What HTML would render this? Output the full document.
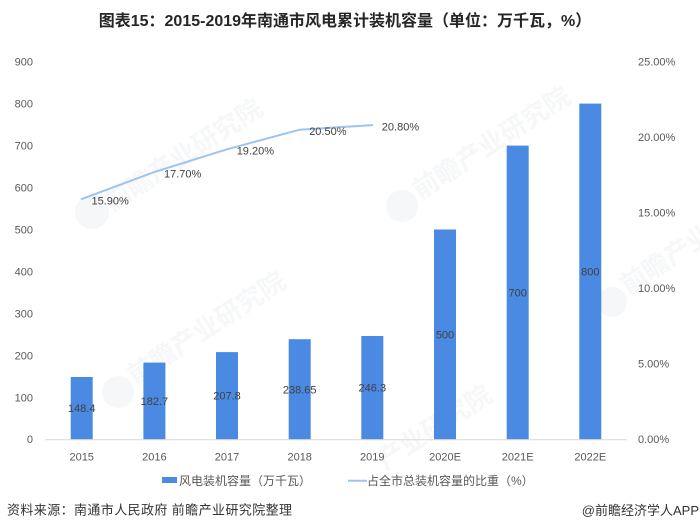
<!DOCTYPE html>
<html>
<head>
<meta charset="utf-8">
<style>
html,body{margin:0;padding:0;background:#fff;}
svg{display:block;}
text{font-family:"Liberation Sans","Noto Sans CJK SC",sans-serif;}
</style>
</head>
<body>
<svg width="700" height="531" viewBox="0 0 700 531" xmlns="http://www.w3.org/2000/svg">
<rect x="0" y="0" width="700" height="531" fill="#ffffff"/>

<!-- watermarks (very faint) -->
<g fill="#f6f7f8" font-size="26" font-weight="bold">
  <circle cx="92" cy="212" r="17"/>
  <text x="112" y="212" transform="rotate(-33 112 212)">前瞻产业研究院</text>
  <circle cx="402" cy="206" r="16"/>
  <text x="420" y="200" transform="rotate(-33 420 200)">前瞻产业研究院</text>
  <circle cx="118" cy="392" r="16"/>
  <text x="135" y="385" transform="rotate(-33 135 385)">前瞻产业研究院</text>
  <circle cx="612" cy="302" r="15"/>
  <text x="628" y="295" transform="rotate(-33 628 295)">前瞻产业</text>
  <text x="385" y="470" transform="rotate(-33 385 470)">产业研究院</text>
</g>

<!-- title -->
<text x="345" y="26" font-size="16" font-weight="bold" fill="#262626" text-anchor="middle">图表15：2015-2019年南通市风电累计装机容量（单位：万千瓦，%）</text>

<!-- left axis labels -->
<g font-size="11" fill="#595959" text-anchor="end">
  <text x="33" y="65.5">900</text>
  <text x="33" y="107.5">800</text>
  <text x="33" y="149.5">700</text>
  <text x="33" y="191.4">600</text>
  <text x="33" y="233.4">500</text>
  <text x="33" y="275.4">400</text>
  <text x="33" y="317.3">300</text>
  <text x="33" y="359.3">200</text>
  <text x="33" y="401.3">100</text>
  <text x="33" y="443.2">0</text>
</g>

<!-- right axis labels -->
<g font-size="11" fill="#595959" text-anchor="start">
  <text x="638" y="65.6">25.00%</text>
  <text x="638" y="141.1">20.00%</text>
  <text x="638" y="216.6">15.00%</text>
  <text x="638" y="292.2">10.00%</text>
  <text x="638" y="367.7">5.00%</text>
  <text x="638" y="443.2">0.00%</text>
</g>

<!-- bars -->
<g fill="#4a8ae3">
  <rect x="70.7" y="377.0" width="22" height="62.3"/>
  <rect x="143.4" y="362.6" width="22" height="76.7"/>
  <rect x="216.0" y="352.1" width="22" height="87.2"/>
  <rect x="288.7" y="339.2" width="22" height="100.1"/>
  <rect x="361.3" y="336.0" width="22" height="103.3"/>
  <rect x="434.0" y="229.5" width="22" height="209.8"/>
  <rect x="506.7" y="145.6" width="22" height="293.7"/>
  <rect x="579.3" y="103.6" width="22" height="335.7"/>
</g>

<!-- axis line -->
<line x1="45" y1="439.8" x2="627" y2="439.8" stroke="#d9d9d9" stroke-width="1"/>

<!-- bar labels -->
<g font-size="11" fill="#404040" text-anchor="middle">
  <text x="81.7" y="412.2">148.4</text>
  <text x="154.4" y="405.0">182.7</text>
  <text x="227.0" y="399.7">207.8</text>
  <text x="299.7" y="393.3">238.65</text>
  <text x="372.3" y="391.7">246.3</text>
  <text x="445.0" y="338.4">500</text>
  <text x="517.7" y="296.5">700</text>
  <text x="590.3" y="275.5">800</text>
</g>

<!-- line series -->
<polyline points="81.7,199.1 154.4,172.0 227.0,149.3 299.7,129.7 372.3,125.1" fill="none" stroke="#9dc3f2" stroke-width="2" stroke-linejoin="round" stroke-linecap="round"/>
<g font-size="11" fill="#404040" text-anchor="start">
  <text x="91.5" y="204.5">15.90%</text>
  <text x="164.0" y="177.3">17.70%</text>
  <text x="236.7" y="154.6">19.20%</text>
  <text x="309.2" y="135.0">20.50%</text>
  <text x="381.8" y="130.4">20.80%</text>
</g>

<!-- x labels -->
<g font-size="11" fill="#595959" text-anchor="middle">
  <text x="81.7" y="460.5">2015</text>
  <text x="154.4" y="460.5">2016</text>
  <text x="227.0" y="460.5">2017</text>
  <text x="299.7" y="460.5">2018</text>
  <text x="372.3" y="460.5">2019</text>
  <text x="445.0" y="460.5">2020E</text>
  <text x="517.7" y="460.5">2021E</text>
  <text x="590.3" y="460.5">2022E</text>
</g>

<!-- legend -->
<rect x="162" y="477" width="15" height="6" fill="#4a8ae3"/>
<text x="179" y="485" font-size="12" fill="#595959">风电装机容量（万千瓦）</text>
<line x1="348" y1="480.7" x2="367" y2="480.7" stroke="#9dc3f2" stroke-width="2"/>
<text x="367" y="485" font-size="12" fill="#595959">占全市总装机容量的比重（%）</text>

<!-- footer -->
<text x="7" y="514.5" font-size="13" fill="#333333" letter-spacing="0.4">资料来源：南通市人民政府 前瞻产业研究院整理</text>
<text x="699" y="515" font-size="13" fill="#333333" text-anchor="end">@前瞻经济学人APP</text>
</svg>
</body>
</html>
